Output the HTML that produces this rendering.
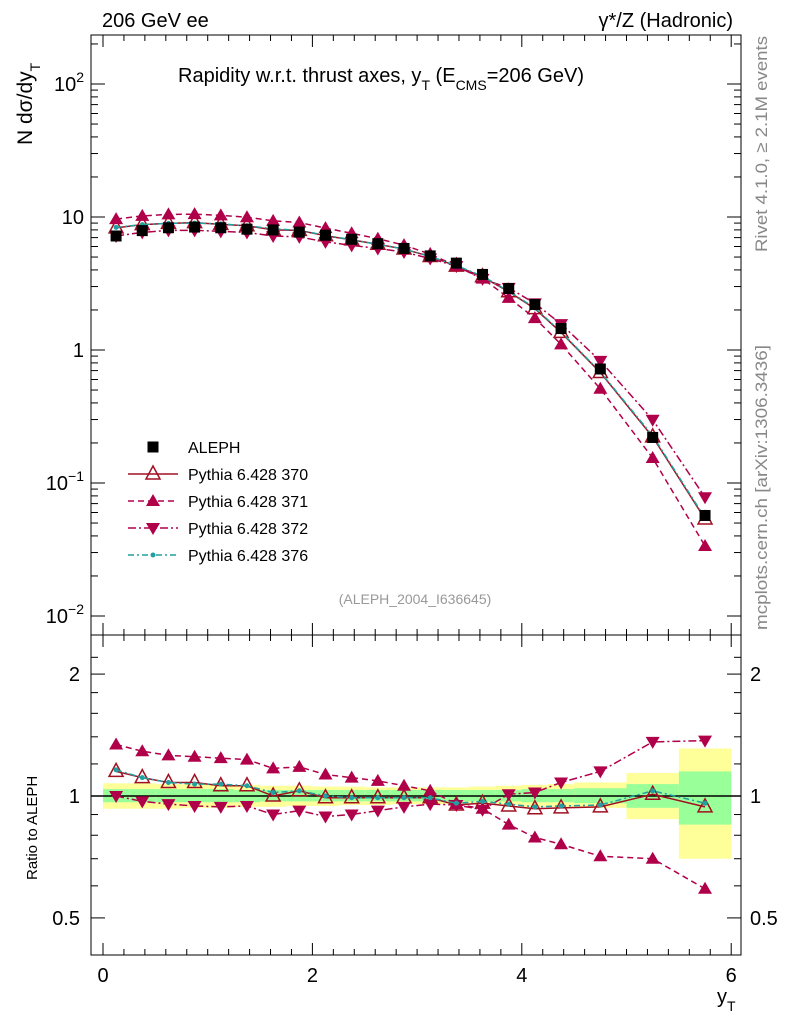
<!DOCTYPE html>
<html><head><meta charset="utf-8"><style>
body{margin:0;background:#fff;}
svg text{font-family:"Liberation Sans",sans-serif;}
</style></head><body>
<svg id="c" width="786" height="1024" xmlns="http://www.w3.org/2000/svg"></svg>
<script>
const xs=[0.125,0.375,0.625,0.875,1.125,1.375,1.625,1.875,2.125,2.375,2.625,2.875,3.125,3.375,3.625,3.875,4.125,4.375,4.75,5.25,5.75];
const binLo=[0,0.25,0.5,0.75,1,1.25,1.5,1.75,2,2.25,2.5,2.75,3,3.25,3.5,3.75,4,4.25,4.5,5,5.5];
const binHi=[0.25,0.5,0.75,1,1.25,1.5,1.75,2,2.25,2.5,2.75,3,3.25,3.5,3.75,4,4.25,4.5,5,5.5,6];
const aleph=[7.2,7.9,8.3,8.4,8.3,8.1,8.0,7.7,7.3,6.8,6.3,5.8,5.1,4.5,3.7,2.9,2.2,1.45,0.72,0.22,0.057];
const r370=[1.15,1.11,1.08,1.08,1.06,1.06,1.0,1.03,0.99,0.99,0.99,0.99,0.99,0.95,0.96,0.945,0.93,0.935,0.94,1.01,0.94];
const r371=[1.34,1.29,1.26,1.25,1.24,1.23,1.17,1.18,1.13,1.11,1.09,1.06,1.03,0.955,0.93,0.85,0.79,0.76,0.71,0.70,0.59];
const r372=[1.0,0.97,0.955,0.945,0.94,0.945,0.90,0.92,0.89,0.90,0.92,0.94,0.955,0.95,0.925,1.01,1.02,1.08,1.15,1.36,1.37];
const r376=[1.16,1.11,1.08,1.07,1.07,1.06,1.02,1.03,1.0,0.99,0.99,0.99,0.99,0.96,0.97,0.955,0.94,0.945,0.95,1.03,0.96];
const yelLo=[0.93,0.93,0.93,0.935,0.935,0.94,0.94,0.945,0.945,0.95,0.95,0.955,0.955,0.955,0.955,0.95,0.94,0.94,0.935,0.877,0.70];
const yelHi=[1.075,1.075,1.07,1.07,1.065,1.065,1.06,1.06,1.055,1.055,1.05,1.05,1.05,1.05,1.055,1.06,1.065,1.07,1.08,1.14,1.31];
const grnLo=[0.965,0.965,0.965,0.965,0.965,0.965,0.97,0.97,0.97,0.97,0.97,0.97,0.97,0.97,0.97,0.97,0.965,0.965,0.96,0.935,0.85];
const grnHi=[1.04,1.04,1.04,1.04,1.04,1.035,1.035,1.035,1.035,1.035,1.035,1.035,1.035,1.035,1.035,1.035,1.04,1.04,1.045,1.07,1.15];

const S=document.getElementById('c');const NS='http://www.w3.org/2000/svg';
function el(t,a,p){const e=document.createElementNS(NS,t);for(const k in a)e.setAttribute(k,a[k]);(p||S).appendChild(e);return e;}
const X=v=>103+v*104.7;
const YT=v=>350-Math.log10(v)*133;
const YR=v=>796-Math.log10(v)*405;
const L=91,R=741,T=35,M=635,B=955;

const gb=el('g',{});
xs.forEach((_,i)=>{
 el('rect',{x:X(binLo[i]),y:YR(yelHi[i]),width:X(binHi[i])-X(binLo[i]),height:YR(yelLo[i])-YR(yelHi[i]),fill:'#ffff99'},gb);
 el('rect',{x:X(binLo[i]),y:YR(grnHi[i]),width:X(binHi[i])-X(binLo[i]),height:YR(grnLo[i])-YR(grnHi[i]),fill:'#99ff99'},gb);
});
el('line',{x1:L,x2:R,y1:YR(1),y2:YR(1),stroke:'#000','stroke-width':1.5});

el('rect',{x:L,y:T,width:R-L,height:M-T,fill:'none',stroke:'#000','stroke-width':1});
el('rect',{x:L,y:M,width:R-L,height:B-M,fill:'none',stroke:'#000','stroke-width':1});
for(let v=0;v<=6.01;v+=0.2){const big=Math.abs(v-Math.round(v))<0.01&&Math.round(v)%2==0;const h=big?12:6;
 for(const [y0,dir] of [[T,1],[M,-1],[M,1],[B,-1]]){el('line',{x1:X(v),x2:X(v),y1:y0,y2:y0+dir*h,stroke:'#000'});}}
for(let d=-2;d<=2;d++){for(let m=1;m<10;m++){const v=m*Math.pow(10,d);const y=YT(v);if(y<T||y>M)continue;const h=m==1?14:7;
 el('line',{x1:L,x2:L+h,y1:y,y2:y,stroke:'#000'});el('line',{x1:R,x2:R-h,y1:y,y2:y,stroke:'#000'});}}
[0.4,0.5,0.6,0.7,0.8,0.9,1,1.2,1.4,1.6,1.8,2,2.2].forEach(v=>{const y=YR(v);if(y<M||y>B)return;const h=[0.5,1,2].includes(v)?14:7;
 el('line',{x1:L,x2:L+h,y1:y,y2:y,stroke:'#000'});el('line',{x1:R,x2:R-h,y1:y,y2:y,stroke:'#000'});});

function txt(s,x,y,a){const t=el('text',Object.assign({x:x,y:y,'font-size':20},a||{}));t.innerHTML=s;return t;}
[[100,'10<tspan dy="-9" font-size="14">2</tspan>'],[10,'10'],[1,'1'],[0.1,'10<tspan dy="-9" font-size="14">−1</tspan>'],[0.01,'10<tspan dy="-9" font-size="14">−2</tspan>']].forEach(([v,s])=>{
 const t=txt(s,84,YT(v)+7,{'text-anchor':'end'});});
[[2,'2'],[1,'1'],[0.5,'0.5']].forEach(([v,s])=>{txt(s,80,YR(v)+7,{'text-anchor':'end'});txt(s,750,YR(v)+7,{});});
[[0,'0'],[2,'2'],[4,'4'],[6,'6']].forEach(([v,s])=>{const t=txt(s,X(v),982,{'text-anchor':'middle'});});

let t;
t=txt('206 GeV ee',102,27);
t=txt('γ*/Z (Hadronic)',733,27,{'text-anchor':'end'});
t=txt('Rapidity w.r.t. thrust axes, y<tspan dy="8" font-size="14">T</tspan><tspan dy="-8"> (E</tspan><tspan dy="8" font-size="14">CMS</tspan><tspan dy="-8">=206 GeV)</tspan>',178,82);
t=txt('N  dσ/dy<tspan dy="8" font-size="14">T</tspan>',0,0,{transform:'translate(32,145) rotate(-90)','font-size':21});
t=txt('Ratio to ALEPH',0,0,{transform:'translate(37,880) rotate(-90)','font-size':15});
t=txt('y<tspan dy="8" font-size="14">T</tspan>',717,1003);
t=txt('(ALEPH_2004_I636645)',415,604,{'text-anchor':'middle','font-size':14,fill:'#999'});
t=txt('Rivet 4.1.0, ≥ 2.1M events',0,0,{transform:'translate(767,252) rotate(-90)','font-size':17,fill:'#888',textLength:216,lengthAdjust:'spacingAndGlyphs'});
t=txt('mcplots.cern.ch [arXiv:1306.3436]',0,0,{transform:'translate(767,630) rotate(-90)','font-size':17,fill:'#888',textLength:285,lengthAdjust:'spacingAndGlyphs'});

const C='#b0004a',C0='#a01020',CT='#20a0a0';
function mk(shape,x,y,col,p){if(shape=='sq')return el('rect',{x:x-5.5,y:y-5.5,width:11,height:11,fill:'#000'},p);
 if(shape=='up')return el('polygon',{points:`${x},${y-7} ${x-7},${y+5} ${x+7},${y+5}`,fill:col},p);
 if(shape=='open')return el('polygon',{points:`${x},${y-8} ${x-7},${y+5} ${x+7},${y+5}`,fill:'none',stroke:col,'stroke-width':1.5},p);
 if(shape=='down')return el('polygon',{points:`${x},${y+7} ${x-7},${y-5} ${x+7},${y-5}`,fill:col},p);
 if(shape=='dot')return el('circle',{cx:x,cy:y,r:2.5,fill:col},p);}
const series=[['series-370',r370,'open',C0,'none'],['series-371',r371,'up',C,'6,4'],['series-372',r372,'down',C,'8,3,2,3'],['series-376',r376,'dot',CT,'6,3,2,3']];
series.forEach(([nm,r,sh,col,da])=>{
 for(const panel of ['top','ratio']){
  const g=el('g',{});
  const pts=xs.map((x,i)=>[X(x),panel=='top'?YT(r[i]*aleph[i]):YR(r[i])]);
  el('polyline',{points:pts.map(p=>p.join(',')).join(' '),fill:'none',stroke:col,'stroke-width':1.5,'stroke-dasharray':da},g);
  pts.forEach(p=>mk(sh,p[0],p[1],col,g));
 }});
const ga=el('g',{});
xs.forEach((x,i)=>mk('sq',X(x),YT(aleph[i]),'#000',ga));

const lg=el('g',{});
const leg=[['ALEPH','sq','#000',null],['Pythia 6.428 370','open',C0,'none'],['Pythia 6.428 371','up',C,'6,4'],['Pythia 6.428 372','down',C,'8,3,2,3'],['Pythia 6.428 376','dot',CT,'6,3,2,3']];
leg.forEach(([s,sh,col,da],i)=>{const y=447+i*27;const g=el('g',{},lg);
 if(da)el('line',{x1:128,x2:178,y1:y,y2:y,stroke:col,'stroke-width':1.5,'stroke-dasharray':da},g);
 mk(sh,153,y,col,g);const tt=el('text',{x:188,y:y+6,'font-size':16},g);tt.textContent=s;});
</script>
</body></html>
